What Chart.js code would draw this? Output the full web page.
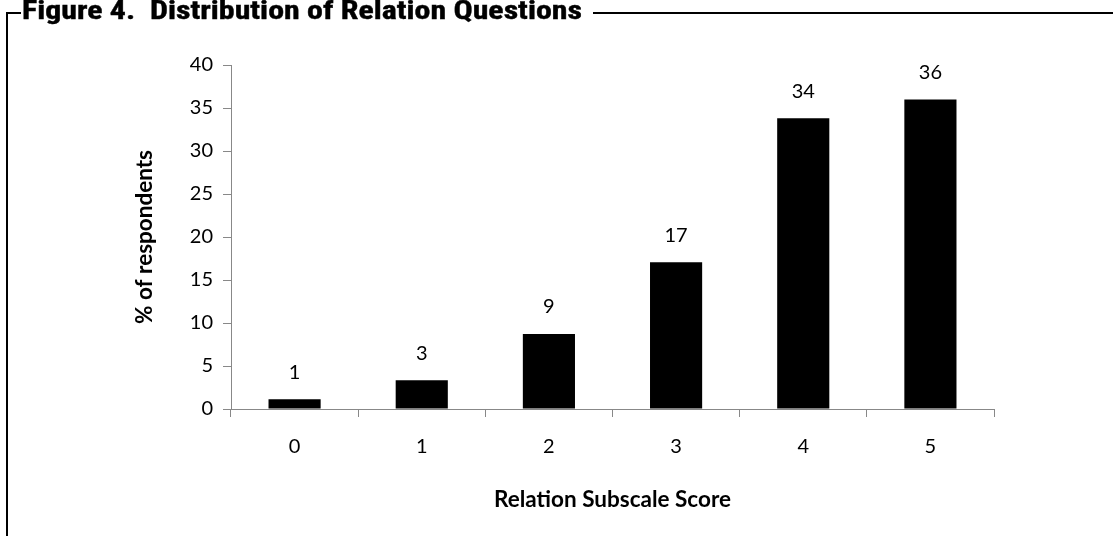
<!DOCTYPE html>
<html>
<head>
<meta charset="utf-8">
<script src="https://cdn.jsdelivr.net/npm/chart.js@4/dist/chart.umd.min.js"></script>
<style>
  html, body { margin: 0; padding: 0; background: #fff; }
  #wrap { position: relative; width: 1113px; height: 536px; overflow: hidden; }
  #chart { position: absolute; left: 0; top: 0; }
  .line { position: absolute; background: #000; }
  #title {
    position: absolute; left: 22px; top: -2px;
    font-family: "Liberation Sans Narrow", "Roboto Condensed", "DejaVu Sans Condensed", "Liberation Sans", sans-serif;
    font-weight: bold; font-size: 25px; line-height: 25px;
    white-space: pre; color: #000;
    -webkit-text-stroke: 0.4px #000;
    transform-origin: 0 0;
  }
</style>
</head>
<body>
<div id="wrap">
  <canvas id="chart" width="1113" height="536"></canvas>
  <div class="line" style="left:6px; top:12px; width:2px; height:524px;"></div>
  <div class="line" style="left:6px; top:12px; width:15px; height:2px;"></div>
  <div class="line" style="left:593px; top:12px; width:520px; height:2px;"></div>
  <div id="title">Figure 4.  Distribution of Relation Questions</div>
</div>
<script>
const tituloFigura = "Figure 4.  Distribution of Relation Questions";
const categorias = ["0", "1", "2", "3", "4", "5"];
const percentuais = [1.13, 3.34, 8.72, 17.06, 33.8, 36.0];
const rotulosValores = ["1", "3", "9", "17", "34", "36"];
const tituloX = "Relation Subscale Score";
const tituloY = "% of respondents";

// ajusta a largura do titulo condensado
let titulo = document.getElementById("title");
titulo.textContent = tituloFigura;
let largura = titulo.getBoundingClientRect().width;
titulo.style.transform = `scaleX(${560 / largura})`;

const fonte = "Lato, 'Open Sans', sans-serif";

// rotulos acima das barras
const rotulosBarras = {
  id: "rotulosBarras",
  afterDatasetsDraw(chart) {
    const ctx = chart.ctx;
    const meta = chart.getDatasetMeta(0);
    ctx.save();
    ctx.font = `20px ${fonte}`;
    ctx.fillStyle = "#000";
    ctx.textAlign = "center";
    ctx.textBaseline = "middle";
    meta.data.forEach((barra, i) => {
      ctx.fillText(rotulosValores[i], barra.x, barra.y - 27);
    });
    ctx.restore();
  },
};

new Chart(document.getElementById("chart"), {
  type: "bar",
  data: {
    labels: categorias,
    datasets: [
      {
        data: percentuais,
        backgroundColor: "#000",
        borderWidth: 0,
        categoryPercentage: 1,
        barPercentage: 0.41,
      },
    ],
  },
  options: {
    responsive: false,
    animation: false,
    devicePixelRatio: 1,
    layout: { padding: { top: 65, left: 0, right: 119, bottom: 0 } },
    plugins: { legend: { display: false }, tooltip: { enabled: false } },
    scales: {
      x: {
        afterFit: (scale) => { scale.height = 127; },
        grid: { drawOnChartArea: false, drawTicks: true, tickLength: 8, color: "#888", offset: true },
        border: { display: true, color: "#888", width: 1 },
        ticks: { color: "#000", font: { family: fonte, size: 20 }, padding: 18 },
        title: {
          display: true, text: tituloX, color: "#000",
          font: { family: fonte, size: 22.5, weight: "bold" },
          padding: { top: 0, bottom: 22.5 },
        },
      },
      y: {
        min: 0,
        max: 40,
        afterFit: (scale) => { scale.width = 231; },
        grid: { drawOnChartArea: false, drawTicks: true, tickLength: 8, color: "#888" },
        border: { display: true, color: "#888", width: 1 },
        ticks: { stepSize: 5, color: "#000", font: { family: fonte, size: 20 }, padding: 10 },
        title: {
          display: true, text: tituloY, color: "#000",
          font: { family: fonte, size: 22.5, weight: "bold" },
          padding: { top: 131.5, bottom: 0 },
        },
      },
    },
  },
  plugins: [rotulosBarras],
});
</script>
</body>
</html>
